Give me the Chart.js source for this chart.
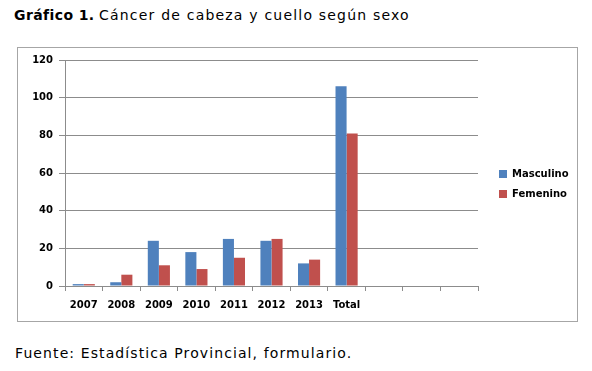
<!DOCTYPE html>
<html>
<head>
<meta charset="utf-8">
<script src="https://cdn.jsdelivr.net/npm/chart.js@4/dist/chart.umd.min.js"></script>
<style>
  html, body { margin:0; padding:0; background:#fff; width:592px; height:371px; overflow:hidden; }
  #title { position:absolute; left:14px; top:5px; font-family:"DejaVu Sans", Verdana, sans-serif; font-size:14px; line-height:20px; color:#000; white-space:nowrap; }
  #title b { font-weight:bold; letter-spacing:0.4px; }
  #title span { letter-spacing:1.2px; }
  #box { position:absolute; left:17px; top:47px; width:559px; height:273px; border:1px solid #a6a6a6; }
  #src { position:absolute; left:15px; top:343px; font-family:"DejaVu Sans", Verdana, sans-serif; font-size:14px; line-height:20px; letter-spacing:1.1px; color:#000; white-space:nowrap; }
</style>
</head>
<body>
<div id="title"><b>Gráfico 1.</b> <span>Cáncer de cabeza y cuello según sexo</span></div>
<div id="box"><canvas id="c" width="559" height="273"></canvas></div>
<div id="src">Fuente: Estadística Provincial, formulario.</div>
<script>
const categories = ['2007', '2008', '2009', '2010', '2011', '2012', '2013', 'Total', '', '', ''];
const masculino = [1, 2, 24, 18, 25, 24, 12, 106, null, null, null];
const femenino  = [1, 6, 11, 9, 15, 25, 14, 81, null, null, null];
const yTicks = [0, 20, 40, 60, 80, 100, 120];

const gridColor = '#8c8c8c';
const tickFont = { family: '"DejaVu Sans", Verdana, sans-serif', size: 10, weight: 'bold' };

const legendPlace = {
  id: 'legendPlace',
  afterInit(chart) {
    const lg = chart.legend;
    if (!lg) return;
    const origFit = lg.fit.bind(lg);
    lg.fit = function () { origFit(); this.width = 99; };
  },
  afterLayout(chart) {
    const lg = chart.legend;
    if (!lg) return;
    lg.left += 11; lg.right += 11;
    lg.top -= 5; lg.bottom -= 5;
  }
};

new Chart(document.getElementById('c'), {
  type: 'bar',
  data: {
    labels: categories,
    datasets: [
      { label: 'Masculino', data: masculino, backgroundColor: '#4f81bd', borderWidth: 0 },
      { label: 'Femenino', data: femenino, backgroundColor: '#c0504d', borderWidth: 0 }
    ]
  },
  plugins: [legendPlace],
  options: {
    responsive: false,
    animation: false,
    devicePixelRatio: 1,
    layout: { padding: { top: 9, right: 0, left: 0, bottom: 0 } },
    datasets: { bar: { categoryPercentage: 0.59, barPercentage: 1.0 } },
    plugins: {
      legend: {
        position: 'right',
        labels: {
          boxWidth: 8, boxHeight: 8, padding: 10,
          color: '#000',
          font: { family: '"DejaVu Sans", Verdana, sans-serif', size: 10, weight: 'bold' }
        }
      },
      tooltip: { enabled: false },
      title: { display: false }
    },
    scales: {
      x: {
        offset: true,
        grid: { display: true, drawOnChartArea: false, drawTicks: true, tickLength: 5, color: gridColor, offset: true },
        border: { display: true, color: gridColor, width: 1 },
        ticks: { color: '#000', font: tickFont, padding: 8, maxRotation: 0, autoSkip: false },
        afterFit: (s) => { s.height = 35; }
      },
      y: {
        min: 0, max: 120,
        afterBuildTicks: (s) => { s.ticks = yTicks.map(v => ({ value: v })); },
        grid: { color: gridColor, tickLength: 6, drawTicks: true },
        border: { display: true, color: gridColor, width: 1 },
        ticks: { color: '#000', font: tickFont, padding: 6 },
        afterFit: (s) => { s.width = 47; }
      }
    }
  }
});
</script>
</body>
</html>
